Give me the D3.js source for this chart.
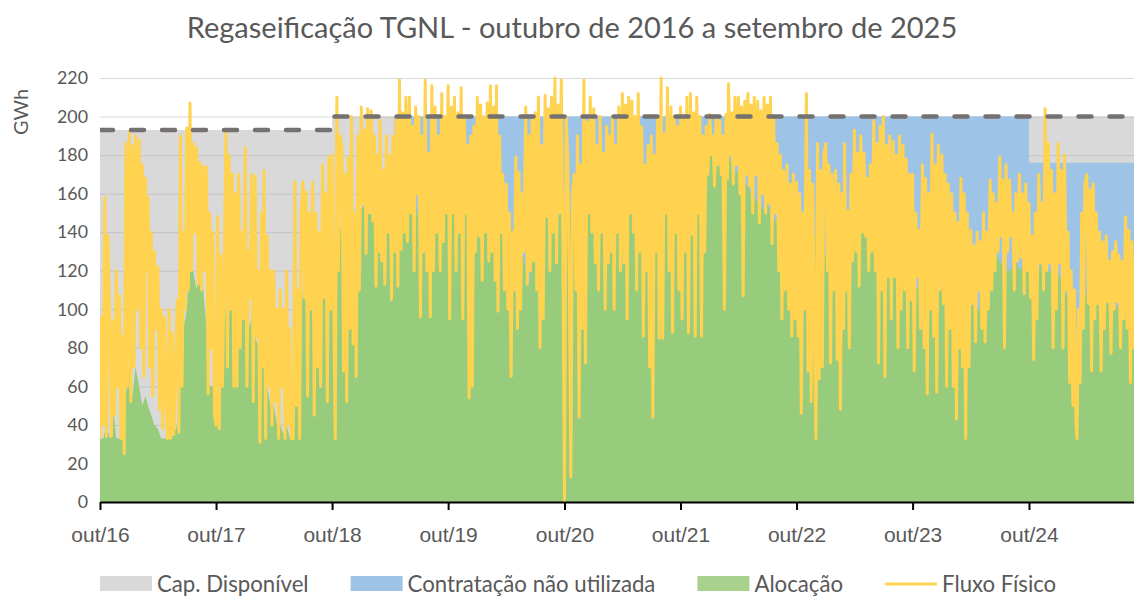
<!DOCTYPE html>
<html>
<head>
<meta charset="utf-8">
<script src="https://cdn.jsdelivr.net/npm/d3@7"></script>
<style>
  body { margin: 0; background: #fff; }
  svg { display: block; font-family: Lato, "Open Sans", sans-serif; }
</style>
</head>
<body>
<svg id="chart" width="1134" height="596"></svg>
<script>
// Regaseificação TGNL (GWh) - valores lidos do gráfico
// fluxo físico: 6 amostras por mês (dias 1, 6, 11, 16, 21, 26), ano gás out-set
const fluxo_2016_17 = [
  33, 96, 40, 158, 34, 138,    90, 34, 94, 45, 120, 60,    107, 33, 86, 25, 186, 60,
  192, 52, 185, 70, 190, 100,  188, 80, 175, 65, 168, 120, 158, 70, 140, 55, 130, 90,
  122, 48, 100, 38, 96, 60,    33, 100, 33, 88, 35, 70,    105, 36, 190, 60, 140, 100,
  194, 110, 207, 120, 186, 140, 184, 113, 176, 110, 174, 120, 174, 56, 150, 80, 140, 45
];
const fluxo_2017_18 = [
  40, 148, 38, 128, 60, 110,   193, 70, 180, 100, 170, 60,  160, 60, 170, 80, 140, 95,
  184, 60, 130, 106, 170, 52,  169, 86, 120, 31, 150, 70,   172, 33, 138, 60, 120, 40,
  120, 52, 100, 33, 110, 60,   100, 33, 120, 40, 90, 33,    33, 166, 50, 110, 33, 150,
  166, 106, 161, 55, 150, 100, 166, 45, 150, 70, 140, 60,   175, 106, 160, 52, 179, 100
];
const fluxo_2018_19 = [
  180, 106, 33, 210, 120, 190,  185, 68, 170, 52, 179, 90,    200, 82, 150, 65, 190, 110,
  205, 155, 193, 129, 204, 150, 203, 146, 190, 112, 180, 130, 198, 125, 172, 113, 190, 140,
  180, 105, 190, 130, 200, 112, 219, 131, 202, 140, 210, 135, 210, 150, 195, 120, 205, 160,
  200, 96, 190, 130, 219, 120,  181, 96, 216, 120, 205, 140,  190, 120, 212, 135, 200, 150
];
const fluxo_2019_20 = [
  216, 95, 205, 150, 210, 120,  202, 140, 215, 95, 200, 150,  185, 54, 190, 60, 195, 130,
  210, 138, 206, 115, 200, 140, 207, 125, 216, 130, 205, 115, 216, 99, 190, 140, 170, 110,
  165, 100, 150, 65, 140, 110,  179, 90, 171, 100, 160, 130,  205, 113, 190, 120, 200, 125,
  202, 110, 210, 80, 185, 95,   211, 148, 204, 120, 210, 140, 220, 124, 206, 150, 219, 130
];
const fluxo_2020_21 = [
  0, 200, 180, 120, 13, 160,    170, 110, 190, 44, 175, 90,   219, 72, 197, 150, 210, 140,
  204, 124, 185, 110, 200, 140, 181, 100, 195, 124, 190, 130, 200, 100, 185, 140, 205, 120,
  212, 124, 206, 95, 210, 150,  208, 140, 200, 110, 212, 130, 195, 86, 175, 120, 185, 70,
  190, 44, 180, 130, 200, 85,   220, 85, 191, 150, 215, 120,  205, 88, 200, 140, 195, 110
];
const fluxo_2021_22 = [
  205, 95, 200, 130, 210, 88,   212, 139, 202, 86, 210, 150,  200, 86, 190, 130, 195, 170,
  201, 180, 190, 164, 200, 175, 198, 170, 190, 100, 201, 168, 217, 180, 202, 165, 210, 175,
  210, 160, 205, 107, 208, 170, 212, 164, 206, 150, 210, 170, 208, 145, 203, 160, 210, 150,
  206, 155, 210, 134, 200, 150, 186, 120, 180, 95, 172, 110,  175, 100, 165, 86, 170, 95
];
const fluxo_2022_23 = [
  166, 86, 160, 46, 150, 100,   212, 68, 172, 52, 165, 90,    33, 186, 64, 172, 70, 180,
  186, 120, 175, 72, 170, 110,  172, 74, 165, 48, 160, 90,    186, 110, 151, 80, 170, 125,
  193, 130, 181, 112, 190, 140, 181, 138, 168, 120, 175, 130, 198, 120, 186, 72, 195, 110,
  200, 65, 185, 117, 190, 95,   187, 117, 180, 80, 190, 100,  185, 110, 178, 80, 170, 105
];
const fluxo_2023_24 = [
  170, 68, 150, 117, 141, 90,   175, 80, 168, 56, 160, 100,   191, 86, 175, 57, 185, 110,
  180, 103, 170, 60, 165, 90,   160, 60, 150, 43, 145, 80,    168, 70, 160, 33, 150, 70,
  141, 103, 133, 83, 140, 110,  135, 90, 150, 83, 140, 100,   167, 110, 160, 120, 155, 130,
  179, 138, 167, 80, 175, 130,  167, 138, 150, 110, 160, 125, 170, 127, 160, 108, 165, 120
];
const fluxo_2024_25 = [
  155, 106, 138, 74, 150, 95,   170, 124, 155, 110, 204, 120, 186, 124, 172, 80, 160, 100,
  186, 124, 172, 80, 180, 110,  140, 62, 120, 50, 110, 40,    33, 100, 62, 150, 90, 165,
  170, 103, 162, 68, 165, 95,   150, 103, 140, 68, 135, 90,   138, 104, 125, 77, 130, 100,
  135, 104, 128, 80, 125, 95,   148, 90, 141, 62, 135, 80,    130, 80, 125, 70, 120, 66
];

// alocação: 3 amostras por mês (dias 1, 11, 21)
const alocacao_2016_17 = [33,33,40, 33,50,33, 33,33,55, 70,55,70, 60,50,55, 50,45,40, 38,33,33, 33,33,35, 40,60,90, 100,128,120, 110,125,112, 90,60,60];
const alocacao_2017_18 = [40,60,80, 100,115,110, 120,140,110, 100,90,95, 86,80,70, 70,60,50, 50,40,40, 35,40,33, 45,70,85, 110,130,120, 110,100,105, 120,130,140];
const alocacao_2018_19 = [130,140,145, 140,150,145, 147,150,155, 152,155,150, 150,148,152, 150,155,150, 150,155,160, 160,150,145, 160,162,155, 145,150,148, 146,150,148, 150,155,160];
const alocacao_2019_20 = [162,160,155, 150,160,155, 155,150,155, 155,158,155, 155,160,155, 150,150,148, 150,145,140, 148,140,130, 120,113,125, 130,140,145, 150,148,150, 155,150,152];
const alocacao_2020_21 = [150,145,150, 148,150,145, 155,150,155, 155,150,145, 145,150,150, 138,140,145, 146,150,150, 150,146,140, 138,130,120, 125,135,145, 146,150,150, 160,155,150];
const alocacao_2021_22 = [165,170,165, 172,175,170, 172,180,178, 184,180,182, 182,180,184, 180,175,170, 172,168,165, 164,160,158, 155,155,150, 155,150,146, 146,140,138, 135,130,138];
const alocacao_2022_23 = [140,146,140, 146,140,135, 138,130,125, 130,120,115, 120,125,130, 130,135,138, 140,146,148, 150,152,148, 155,150,145, 140,135,130, 128,125,120, 118,115,120];
const alocacao_2023_24 = [115,110,112, 112,110,115, 118,112,110, 110,105,100, 100,95,90, 90,85,95, 100,105,100, 100,105,110, 120,125,128, 125,122,120, 120,122,125, 120,122,125];
const alocacao_2024_25 = [120,118,120, 120,125,122, 120,118,115, 118,115,110, 105,90,70, 40,80,100, 110,115,112, 110,108,105, 105,100,104, 100,102,100, 95,92,90, 88,85,80];

// capacidade disponível (linha tracejada) e contratação
const capDatas = ["2016-10-01", "2018-10-01", "2025-10-01"];
const capValores = [193, 200, 200];
const contratoDatas = ["2016-10-01", "2019-04-15", "2024-10-01", "2025-10-01"];
const contratoValores = [0, 200, 176, 176];

const anosTicks = ["2016-10-01", "2017-10-01", "2018-10-01", "2019-10-01", "2020-10-01",
                   "2021-10-01", "2022-10-01", "2023-10-01", "2024-10-01"];
const yTicks = [0, 20, 40, 60, 80, 100, 120, 140, 160, 180, 200, 220];
const legendaNomes = ["Cap. Disponível", "Contratação não utilizada", "Alocação", "Fluxo Físico"];
const titulo = "Regaseificação TGNL - outubro de 2016 a setembro de 2025";

const parse = d3.timeParse("%Y-%m-%d");
const svg = d3.select("#chart");
const fonte = "Lato, 'Open Sans', sans-serif";
const corTexto = "#595959";

const x = d3.scaleTime()
  .domain([parse("2016-10-01"), parse("2025-10-01")])
  .range([100, 1145]);
const y = d3.scaleLinear().domain([0, 220]).range([502, 78]);

const fluxo = [].concat(fluxo_2016_17, fluxo_2017_18, fluxo_2018_19, fluxo_2019_20, fluxo_2020_21,
  fluxo_2021_22, fluxo_2022_23, fluxo_2023_24, fluxo_2024_25);
const alocacao = [].concat(alocacao_2016_17, alocacao_2017_18, alocacao_2018_19, alocacao_2019_20,
  alocacao_2020_21, alocacao_2021_22, alocacao_2022_23, alocacao_2023_24, alocacao_2024_25);

const serieFluxo = fluxo.map((v, i) => ({ data: new Date(2016, 9 + Math.floor(i / 6), 1 + (i % 6) * 5), valor: v }));
const serieAlocacao = alocacao.map((v, i) => ({ data: new Date(2016, 9 + Math.floor(i / 3), 1 + (i % 3) * 10), valor: v }));
const serieCap = capDatas.map((d, i) => ({ data: parse(d), valor: capValores[i] }));
const serieContrato = contratoDatas.map((d, i) => ({ data: parse(d), valor: contratoValores[i] }));

// mede um texto e devolve o tamanho de letra que dá a largura pedida
function tamanhoAjustado(texto, largura) {
  const t = svg.append("text").attr("font-family", fonte).style("font-size", "20px").text(texto);
  const w = t.node().getComputedTextLength();
  t.remove();
  return 20 * largura / w;
}

svg.append("defs").append("clipPath").attr("id", "area-plot")
  .append("rect").attr("x", 100).attr("y", 0).attr("width", 1034).attr("height", 505);

// grelha
svg.append("g").selectAll("line")
  .data(yTicks.filter(d => d > 0))
  .enter().append("line")
  .attr("x1", 100).attr("x2", 1134)
  .attr("y1", d => y(d) + 0.5).attr("y2", d => y(d) + 0.5)
  .attr("stroke", "#d9d9d9").attr("stroke-width", 1);

const plot = svg.append("g").attr("clip-path", "url(#area-plot)");

const areaDegrau = d3.area().curve(d3.curveStepAfter)
  .x(d => x(d.data)).y0(y(0)).y1(d => y(d.valor));

plot.append("path").datum(serieCap)
  .attr("d", areaDegrau)
  .attr("fill", "#a5a5a5").attr("fill-opacity", 0.42);

plot.append("path").datum(serieContrato)
  .attr("d", areaDegrau)
  .attr("fill", "#9dc3e6");

plot.append("path").datum(serieAlocacao)
  .attr("d", d3.area().x(d => x(d.data)).y0(y(0)).y1(d => y(d.valor)))
  .attr("fill", "#97cc7d");

plot.append("path").datum(serieFluxo)
  .attr("d", d3.line().x(d => x(d.data)).y(d => y(d.valor)))
  .attr("fill", "none").attr("stroke", "#ffd34f")
  .attr("stroke-width", 3).attr("stroke-linejoin", "round");

plot.append("path").datum(serieCap)
  .attr("d", d3.line().curve(d3.curveStepAfter).x(d => x(d.data)).y(d => y(d.valor)))
  .attr("fill", "none").attr("stroke", "#767171")
  .attr("stroke-width", 4.5).attr("stroke-dasharray", "13,18")
  .attr("stroke-linecap", "round");

// eixo x
const tamEixoX = tamanhoAjustado("out/16", 65);
const eixoX = svg.append("g")
  .attr("transform", "translate(0,502)")
  .attr("font-family", fonte)
  .call(d3.axisBottom(x)
    .tickValues(anosTicks.map(parse))
    .tickFormat(d => "out/" + d3.timeFormat("%y")(d))
    .tickSizeInner(8).tickSizeOuter(0).tickPadding(17));
eixoX.select(".domain").attr("stroke", "#000").attr("stroke-width", 2);
eixoX.selectAll(".tick line").attr("stroke", "#000").attr("stroke-width", 2);
eixoX.selectAll("text").attr("fill", corTexto).style("font-size", tamEixoX + "px");

// eixo y (só rótulos)
const tamEixoY = tamanhoAjustado("220", 31);
svg.append("g").selectAll("text")
  .data(yTicks)
  .enter().append("text")
  .attr("x", 88).attr("y", d => y(d)).attr("dy", "0.35em")
  .attr("text-anchor", "end")
  .attr("font-family", fonte).style("font-size", tamEixoY + "px")
  .attr("fill", corTexto)
  .text(d => d);

svg.append("text")
  .attr("transform", "translate(21,112) rotate(-90)")
  .attr("dy", "0.35em").attr("text-anchor", "middle")
  .attr("font-family", fonte).style("font-size", tamanhoAjustado("GWh", 46) + "px")
  .attr("fill", corTexto)
  .text("GWh");

// título
svg.append("text")
  .attr("x", 572).attr("y", 38)
  .attr("text-anchor", "middle")
  .attr("font-family", fonte).style("font-size", tamanhoAjustado(titulo, 771) + "px")
  .attr("fill", corTexto)
  .text(titulo);

// legenda
const tamLegenda = tamanhoAjustado("Contratação não utilizada", 248);
const coresLegenda = ["#d9d9d9", "#9dc3e6", "#a9d18e", "#ffd34f"];
let lx = 100;
legendaNomes.forEach((nome, i) => {
  if (i < 3) {
    svg.append("rect").attr("x", lx).attr("y", 576).attr("width", 52).attr("height", 15)
      .attr("fill", coresLegenda[i]);
  } else {
    svg.append("line").attr("x1", lx).attr("x2", lx + 52).attr("y1", 584).attr("y2", 584)
      .attr("stroke", coresLegenda[i]).attr("stroke-width", 3);
  }
  const t = svg.append("text")
    .attr("x", lx + 57).attr("y", 584).attr("dy", "0.35em")
    .attr("font-family", fonte).style("font-size", tamLegenda + "px")
    .attr("fill", corTexto)
    .text(nome);
  lx += 57 + t.node().getComputedTextLength() + 42;
});
</script>
</body>
</html>
